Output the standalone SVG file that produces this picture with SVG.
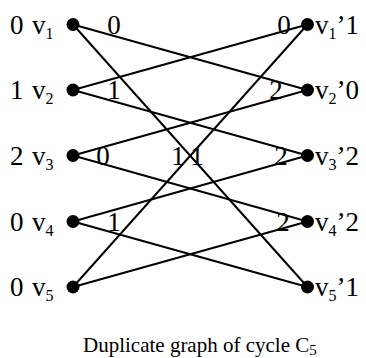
<svg xmlns="http://www.w3.org/2000/svg" width="366" height="358" viewBox="0 0 366 358">
<style>
text{font-family:"Liberation Serif","Times New Roman",serif;fill:#000}
.lb{font-size:27px}
.el{font-size:27px;text-anchor:middle}
.sb{font-size:16px}
.cap{font-size:21px}
line{stroke:#000;stroke-width:2}
circle{fill:#000}
</style>
<rect width="366" height="358" fill="#fff"/>
<g id="edges">
<line x1="73" y1="24.5" x2="307.5" y2="90"/>
<line x1="73" y1="24.5" x2="307.5" y2="287"/>
<line x1="73" y1="90" x2="307.5" y2="24.5"/>
<line x1="73" y1="90" x2="307.5" y2="155.5"/>
<line x1="73" y1="155.5" x2="307.5" y2="90"/>
<line x1="73" y1="155.5" x2="307.5" y2="221.5"/>
<line x1="73" y1="221.5" x2="307.5" y2="155.5"/>
<line x1="73" y1="221.5" x2="307.5" y2="287"/>
<line x1="73" y1="287" x2="307.5" y2="221.5"/>
<line x1="73" y1="287" x2="307.5" y2="24.5"/>
</g>
<g id="edge-labels">
<text class="el" x="114" y="33.5">0</text>
<text class="el" x="284" y="33.5">0</text>
<text class="el" x="114" y="99">1</text>
<text class="el" x="276" y="99">2</text>
<text class="el" x="103" y="164.5">0</text>
<text class="el" x="178" y="164.5">1</text>
<text class="el" x="197" y="164.5">1</text>
<text class="el" x="281" y="164.5">2</text>
<text class="el" x="114" y="230.5">1</text>
<text class="el" x="283" y="230.5">2</text>
</g>
<g id="v1"><circle cx="73" cy="24.5" r="6.5"/><text class="lb" y="33.5"><tspan x="10">0</tspan><tspan x="32">v</tspan><tspan class="sb" dy="5">1</tspan></text></g>
<g id="v2"><circle cx="73" cy="90" r="6.5"/><text class="lb" y="99"><tspan x="10">1</tspan><tspan x="32">v</tspan><tspan class="sb" dy="5">2</tspan></text></g>
<g id="v3"><circle cx="73" cy="155.5" r="6.5"/><text class="lb" y="164.5"><tspan x="10">2</tspan><tspan x="32">v</tspan><tspan class="sb" dy="5">3</tspan></text></g>
<g id="v4"><circle cx="73" cy="221.5" r="6.5"/><text class="lb" y="230.5"><tspan x="10">0</tspan><tspan x="32">v</tspan><tspan class="sb" dy="5">4</tspan></text></g>
<g id="v5"><circle cx="73" cy="287" r="6.5"/><text class="lb" y="296"><tspan x="10">0</tspan><tspan x="32">v</tspan><tspan class="sb" dy="5">5</tspan></text></g>
<g id="v1p"><circle cx="307.5" cy="24.5" r="6.5"/><text class="lb" x="315" y="33.5">v<tspan class="sb" dy="5">1</tspan><tspan dy="-5">’1</tspan></text></g>
<g id="v2p"><circle cx="307.5" cy="90" r="6.5"/><text class="lb" x="315" y="99">v<tspan class="sb" dy="5">2</tspan><tspan dy="-5">’0</tspan></text></g>
<g id="v3p"><circle cx="307.5" cy="155.5" r="6.5"/><text class="lb" x="315" y="164.5">v<tspan class="sb" dy="5">3</tspan><tspan dy="-5">’2</tspan></text></g>
<g id="v4p"><circle cx="307.5" cy="221.5" r="6.5"/><text class="lb" x="315" y="230.5">v<tspan class="sb" dy="5">4</tspan><tspan dy="-5">’2</tspan></text></g>
<g id="v5p"><circle cx="307.5" cy="287" r="6.5"/><text class="lb" x="315" y="296">v<tspan class="sb" dy="5">5</tspan><tspan dy="-5">’1</tspan></text></g>
<text class="cap" x="83" y="352">Duplicate graph of cycle C<tspan class="sb" dy="3" style="font-size:15px">5</tspan></text>
</svg>
